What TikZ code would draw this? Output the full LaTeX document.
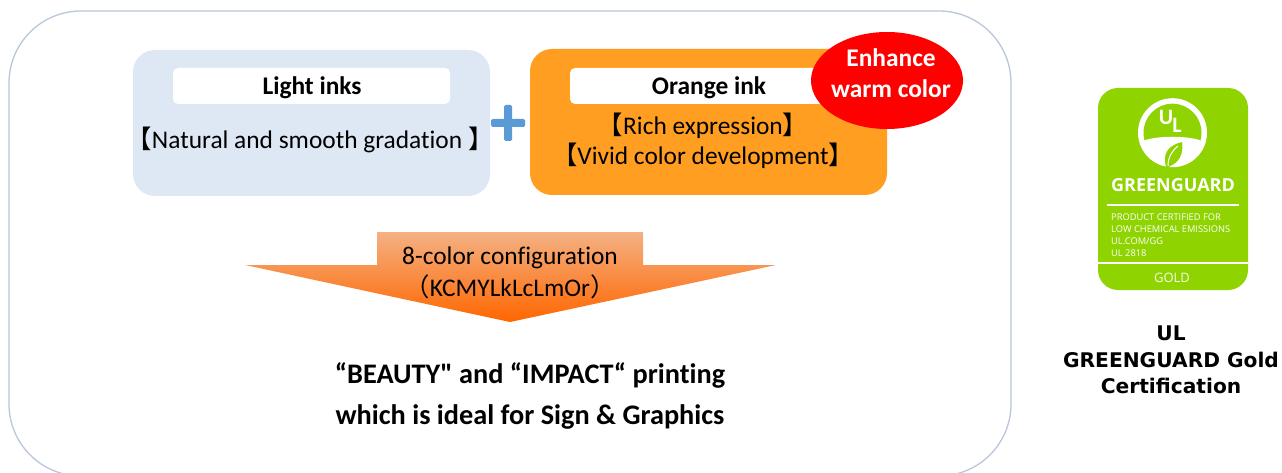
\documentclass[tikz,border=0pt]{standalone}
\usepackage{fontspec}
\setmainfont{Carlito}[Ligatures={TeXOff,NoCommon}]
\newfontfamily\cjkfam{Noto Sans CJK JP}
\newfontfamily\dejafam{DejaVu Sans}
\newfontfamily\logofam{Open Sans}
\definecolor{framec}{HTML}{B9C6DB}
\definecolor{lightb}{HTML}{DEE8F4}
\definecolor{orangeb}{HTML}{FF9E20}
\definecolor{plusc}{HTML}{5B9BD5}
\definecolor{leafg}{HTML}{8FD400}
\definecolor{arrowtop}{HTML}{F4B183}
\definecolor{arrowmid}{HTML}{F9965A}
\definecolor{arrowbot}{HTML}{FF6600}
\tikzset{
  x=1pt,y=-1pt,
  txt/.style={anchor=base,inner sep=0pt,outer sep=0pt,font=\fontsize{25.4}{28}\selectfont,text=black},
  hd/.style={txt,font=\fontsize{25.4}{28}\selectfont\bfseries},
  wh/.style={txt,font=\fontsize{25.4}{28}\selectfont\bfseries,text=white},
  bigt/.style={txt,font=\fontsize{28.3}{30}\selectfont\bfseries},
  side/.style={txt,font=\fontsize{20.2}{24}\dejafam\bfseries},
  logosmall/.style={anchor=base west,inner sep=0pt,font=\fontsize{9.3}{10}\logofam,text=white},
}
\begin{document}
\begin{tikzpicture}
\useasboundingbox (0,0) rectangle (1282,473);
\fill[white] (0,0) rectangle (1282,473);
% outer frame
\draw[framec,line width=1.3pt,rounded corners=72pt] (9,11) rectangle (1011,476);
% light box
\fill[lightb,rounded corners=22pt] (133,50) rectangle (490,196);
\fill[white,rounded corners=5pt] (173,68) rectangle (450,104);
\node[hd] (light) at (312,95) {Light inks};
\node[txt] (nat) at (310,149) {{\cjkfam 【}Natural and smooth gradation {\cjkfam 】}};
% plus
\fill[plusc,rounded corners=1.5pt] (504,105) rectangle (512,141);
\fill[plusc,rounded corners=1.5pt] (491,119) rectangle (525,127);
% orange box
\fill[orangeb,rounded corners=22pt] (530,49) rectangle (887,195);
\fill[white,rounded corners=5pt] (570,68) rectangle (840,104);
\node[hd] (orange) at (709,95) {Orange ink};
\node[txt] (rich) at (703,135) {{\cjkfam 【}Rich expression{\cjkfam 】}};
\node[txt] (vivid) at (703,165) {{\cjkfam 【}Vivid color development{\cjkfam 】}};
% ellipse
\fill[red] (887,80.5) ellipse [x radius=76,y radius=48.5];
\node[wh] (enh) at (891,67) {Enhance};
\node[wh] (warm) at (891,98) {warm color};
% arrow
\shade[top color=arrowtop,middle color=arrowmid,bottom color=arrowbot]
  (377,232) -- (643,232) -- (643,265) -- (776,265) -- (510,322) -- (245,265) -- (377,265) -- cycle;
\node[txt] (cfg) at (510,264) {8-color configuration};
\node[txt] (kc) at (510,296) {{\cjkfam （}KCMYLkLcLmOr{\cjkfam ）}};
% bottom text
\node[bigt] (b1) at (530,383) {“BEAUTY" and “IMPACT“ printing};
\node[bigt] (b2) at (530,424) {which is ideal for Sign \& Graphics};
% side caption
\node[side] (s1) at (1171,340) {UL};
\node[side] (s2) at (1171,367) {GREENGUARD Gold};
\node[side] (s3) at (1171,393) {Certification};
% logo
\fill[leafg,rounded corners=20pt] (1098,88) rectangle (1248,290);
\fill[white] (1172.5,132.7) circle [radius=34.5];
\begin{scope}
  \clip (1172.5,132.7) circle [radius=29];
  \fill[leafg] (1140,100) rectangle (1205,142);
  \fill[white] (1140,142) .. controls (1155,135) and (1190,135) .. (1205,142) -- (1205,170) -- (1140,170) -- cycle;
\end{scope}
\fill[leafg] (1166,167) .. controls (1163,155) and (1166,146) .. (1182,142) .. controls (1184,155) and (1178,163) .. (1170,166) -- (1169,167) -- cycle;
\draw[white,line width=1pt] (1168,166) .. controls (1168,157) and (1172,151) .. (1178,146);
\node[inner sep=0pt,text=white,font=\fontsize{22}{24}\selectfont\bfseries] (lu) at (1166,117) {U};
\node[inner sep=0pt,text=white,font=\fontsize{22}{24}\selectfont\bfseries] (ll) at (1177,125) {L};
\node[anchor=base,inner sep=0pt,text=white,font=\fontsize{18}{20}\logofam\bfseries] (gg) at (1173,192) {GREENGUARD};
\fill[white] (1107,204.5) rectangle (1239,205.8);
\node[logosmall] (p1) at (1111,221) {PRODUCT CERTIFIED FOR};
\node[logosmall] (p2) at (1111,232.5) {LOW CHEMICAL EMISSIONS};
\node[logosmall] (p3) at (1111,244) {UL.COM/GG};
\node[logosmall] (p4) at (1111,256) {UL 2818};
\fill[white] (1098,262) rectangle (1248,264);
\node[anchor=base,inner sep=0pt,text=white!90!leafg,font=\fontsize{13}{15}\logofam] (gold) at (1172,282) {GOLD};
\end{tikzpicture}
\end{document}
